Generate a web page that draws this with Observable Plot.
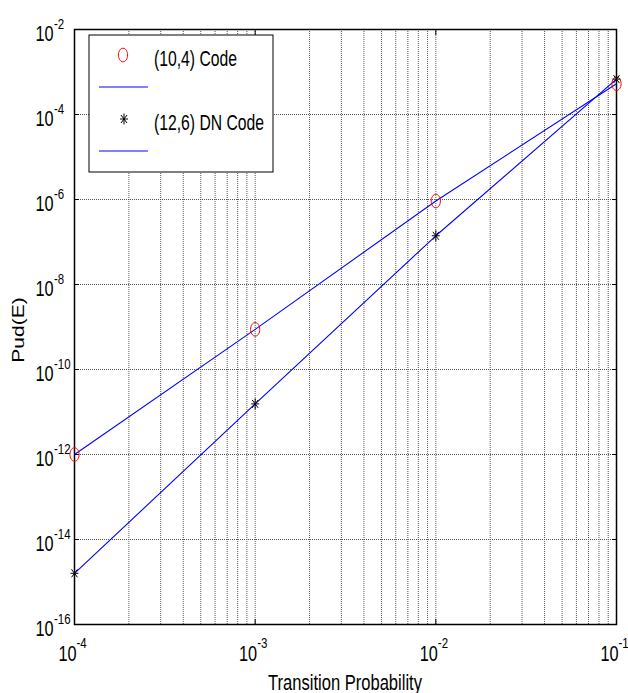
<!DOCTYPE html>
<html><head><meta charset="utf-8">
<script src="https://cdn.jsdelivr.net/npm/d3@7"></script>
<script src="https://cdn.jsdelivr.net/npm/@observablehq/plot@0.6"></script>
<style>
body{margin:0;background:#fff}
svg text{font-family:"Liberation Sans",Arial,Helvetica,sans-serif}
</style>
</head><body><div id="chart"></div>
<script>
// Transition probability (x) values
const transitionProb = [1e-4, 1e-3, 1e-2, 1e-1];
// (10,4) Code
const code104 = [1.0e-12, 8.8e-10, 9.2e-7, 5.3e-4];
// (12,6) DN Code
const code126dn = [1.6e-15, 1.55e-11, 1.4e-7, 6.8e-4];
// axis ticks
const xTickValues = [1e-4, 1e-3, 1e-2, 1e-1];
const xTickExp = ["-4", "-3", "-2", "-1"];
const yTickValues = [1e-16, 1e-14, 1e-12, 1e-10, 1e-8, 1e-6, 1e-4, 1e-2];
const yTickExp = ["-16", "-14", "-12", "-10", "-8", "-6", "-4", "-2"];
const seriesNames = ["(10,4) Code", "(12,6) DN Code"];

const xGrid = [];
for (const d of [1e-4, 1e-3, 1e-2]) for (let m = 1; m <= 9; m++) xGrid.push(m * d);
xGrid.push(1e-1);

const rows104 = transitionProb.map((p, i) => ({p, v: code104[i]}));
const rowsDN = transitionProb.map((p, i) => ({p, v: code126dn[i]}));

const ellipse = {draw(ctx, size) {
  const rx = 4.6, ry = 6.8, k = 0.5523;
  ctx.moveTo(rx, 0);
  ctx.bezierCurveTo(rx, k*ry, k*rx, ry, 0, ry);
  ctx.bezierCurveTo(-k*rx, ry, -rx, k*ry, -rx, 0);
  ctx.bezierCurveTo(-rx, -k*ry, -k*rx, -ry, 0, -ry);
  ctx.bezierCurveTo(k*rx, -ry, rx, -k*ry, rx, 0);
  ctx.closePath();
}};
const star8 = {draw(ctx, size) {
  const rx = 4, ry = 5.5, dx = 3, dy = 4;
  ctx.moveTo(-rx, 0); ctx.lineTo(rx, 0);
  ctx.moveTo(0, -ry); ctx.lineTo(0, ry);
  ctx.moveTo(-dx, -dy); ctx.lineTo(dx, dy);
  ctx.moveTo(-dx, dy); ctx.lineTo(dx, -dy);
}};

const BASE = 22, EXP = 15.5;
const chart = Plot.plot({
  width: 628, height: 693,
  marginLeft: 74, marginRight: 12, marginTop: 29, marginBottom: 69,
  x: {type: "log", domain: [1e-4, 1e-1], axis: null},
  y: {type: "log", domain: [1e-16, 1e-2], axis: null},
  marks: [
    Plot.ruleX(xGrid, {x: d => d, stroke: "#555", strokeWidth: 1, strokeDasharray: "1,1"}),
    Plot.ruleY(yTickValues, {y: d => d, stroke: "#555", strokeWidth: 1, strokeDasharray: "1,1"}),
    Plot.axisY({ticks: yTickValues, tickSize: -5, tickFormat: () => "", anchor: "left", stroke: "#000", label: null}),
    Plot.axisY({ticks: yTickValues, tickSize: -5, tickFormat: () => "", anchor: "right", stroke: "#000", label: null}),
    Plot.axisX({ticks: xTickValues, tickSize: -5, tickFormat: () => "", anchor: "bottom", stroke: "#000", label: null}),
    Plot.axisX({ticks: xTickValues, tickSize: -5, tickFormat: () => "", anchor: "top", stroke: "#000", label: null}),
    Plot.frame({stroke: "#000", strokeWidth: 1.5}),
    // tick labels
    Plot.text(yTickValues, {x: () => 1e-4, y: d => d, text: () => "10", textAnchor: "end", dx: -21, dy: 4, fontSize: BASE, fill: "#000"}),
    Plot.text(yTickValues, {x: () => 1e-4, y: d => d, text: (d, i) => yTickExp[i], textAnchor: "start", dx: -20.5, dy: -5.5, fontSize: EXP, fill: "#000"}),
    Plot.text(xTickValues, {x: d => d, y: () => 1e-16, text: () => "10", textAnchor: "end", dx: 2, dy: 29, fontSize: BASE, fill: "#000"}),
    Plot.text(xTickValues, {x: d => d, y: () => 1e-16, text: (d, i) => xTickExp[i], textAnchor: "start", dx: 2, dy: 18.5, fontSize: EXP, fill: "#000"}),
    // data
    Plot.line(rows104, {x: "p", y: "v", stroke: "#0000ff", strokeWidth: 1.1}),
    Plot.line(rowsDN, {x: "p", y: "v", stroke: "#0000ff", strokeWidth: 1.1}),
    Plot.dot(rows104, {x: "p", y: "v", symbol: () => ellipse, stroke: "#ff0000", strokeWidth: 1, fill: "none", r: 5}),
    Plot.dot(rowsDN, {x: "p", y: "v", symbol: () => star8, stroke: "#000", strokeWidth: 1, fill: "none", r: 5})
  ]
});

const SX = 0.74; // horizontally condensed lettering, as in the reference
const svg = d3.select(chart);
svg.selectAll("text").each(function() {
  const t = this.getAttribute("transform");
  if (t) this.setAttribute("transform", t + ` scale(${SX},1)`);
  else {
    const x = +this.getAttribute("x") || 0, y = +this.getAttribute("y") || 0;
    this.removeAttribute("x"); this.removeAttribute("y");
    this.setAttribute("transform", `translate(${x},${y}) scale(${SX},1)`);
  }
});

const addText = (x, y, txt, size, anchor, extra = "") =>
  svg.append("text").attr("transform", `translate(${x},${y}) ${extra}`)
    .attr("text-anchor", anchor).attr("font-size", size).attr("fill", "#000").text(txt);

addText(345, 690, "Transition Probability", 21.5, "middle", "scale(0.77,1)");
addText(24, 330, "Pud(E)", 21, "middle", "rotate(-90) scale(1,0.77)");

// legend
const lg = svg.append("g");
lg.append("rect").attr("x", 89).attr("y", 35).attr("width", 184).attr("height", 137)
  .attr("fill", "#fff").attr("stroke", "#000").attr("stroke-width", 1);
lg.append("path").attr("transform", "translate(123,55)").attr("d", (() => { const p = d3.path(); ellipse.draw(p); return p.toString(); })())
  .attr("fill", "none").attr("stroke", "#ff0000");
lg.append("line").attr("x1", 99).attr("x2", 148).attr("y1", 87).attr("y2", 87).attr("stroke", "#0000ff");
lg.append("path").attr("transform", "translate(124,119)").attr("d", (() => { const p = d3.path(); star8.draw(p); return p.toString(); })())
  .attr("fill", "none").attr("stroke", "#000");
lg.append("line").attr("x1", 99).attr("x2", 148).attr("y1", 151).attr("y2", 151).attr("stroke", "#0000ff");
addText(154, 66, seriesNames[0], 22, "start", "scale(0.715,1)");
addText(154, 130, seriesNames[1], 22, "start", "scale(0.715,1)");

document.getElementById("chart").appendChild(chart);
</script>
</body></html>
